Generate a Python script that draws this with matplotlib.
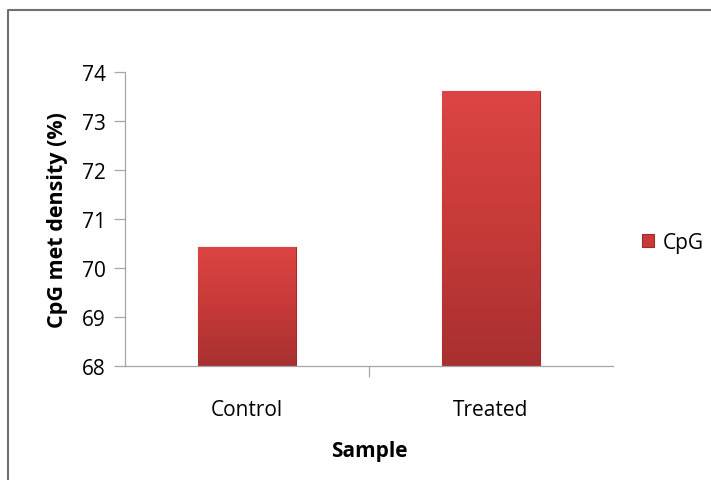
import numpy as np
import matplotlib.pyplot as plt
from matplotlib.colors import LinearSegmentedColormap
from matplotlib.lines import Line2D

samples = ['Control', 'Treated']
cpg_density = [70.42, 73.62]
y_ticks = [68, 69, 70, 71, 72, 73, 74]

plt.rcParams['font.family'] = ['Open Sans', 'DejaVu Sans']

fig = plt.figure(figsize=(7.11, 4.81), dpi=100)
ax = fig.add_axes([125 / 711, 1 - 367 / 481, 488 / 711, 294 / 481])

x = np.arange(len(samples))
bars = ax.bar(x, np.array(cpg_density) - 68, bottom=68, width=0.4,
              color='#c83a38', edgecolor='#9c2c2c', linewidth=0.8,
              zorder=2)

# vertical red gradient inside each bar
grad_cmap = LinearSegmentedColormap.from_list('red_grad', ['#a83030', '#c63a38', '#dc4543'])
grad = np.linspace(0, 1, 256).reshape(-1, 1)
for b in bars:
    x0, y0 = b.get_x(), b.get_y()
    w, h = b.get_width(), b.get_height()
    im = ax.imshow(grad, cmap=grad_cmap, origin='lower', aspect='auto',
                   extent=[x0, x0 + w, y0, y0 + h], zorder=2.5)
    im.set_clip_path(b)

ax.set_xlim(-0.5, 1.5)
ax.set_ylim(68, 74)
ax.set_yticks(y_ticks)
ax.set_xticks(x)
ax.set_xticklabels(samples)
ax.set_xticks([0.5], minor=True)

for side in ['top', 'right']:
    ax.spines[side].set_visible(False)
for side in ['left', 'bottom']:
    ax.spines[side].set_color('#a6a6a6')
    ax.spines[side].set_linewidth(0.9)

ax.tick_params(axis='y', labelsize=15, length=8, color='#a6a6a6', width=0.9, pad=6)
ax.tick_params(axis='x', which='major', labelsize=15, length=0, pad=24)
ax.tick_params(axis='x', which='minor', length=8, color='#a6a6a6', width=0.9)

ax.set_ylabel('CpG met density (%)', fontsize=15.5, fontweight='bold', labelpad=10)
ax.set_xlabel('Sample', fontsize=15, fontweight='bold', labelpad=14)

ax.legend(handles=[bars[0]], labels=['CpG'], loc='center left',
          bbox_to_anchor=(1.02, 0.42), frameon=False, fontsize=15,
          handlelength=0.6, handleheight=0.6, handletextpad=0.4)

# outer chart border (top and left only are visible)
fig.add_artist(Line2D([8 / 711, 8 / 711, 1.0], [0.0, 1 - 11 / 481, 1 - 11 / 481],
                      transform=fig.transFigure, color='#707070', linewidth=1.5))

fig.savefig('out.png', dpi=100, facecolor='white')
